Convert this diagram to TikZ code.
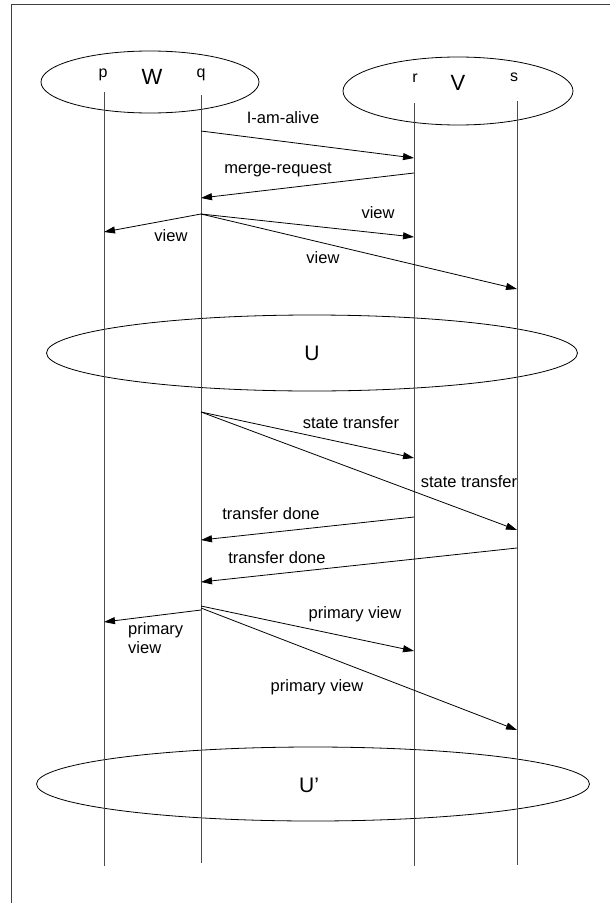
\documentclass[tikz,border=0pt]{standalone}
\usepackage{fontspec}
\setmainfont{Liberation Sans}
\usetikzlibrary{arrows.meta,shapes.geometric}
\begin{document}
\begin{tikzpicture}[x=1bp,y=-1bp,
  frame/.style={draw=black!75, line width=1bp},
  life/.style={draw=black!70, line width=0.9bp},
  msg/.style={draw=black, line width=0.8bp, -{Triangle[length=11bp,width=7bp]}},
  lbl/.style={font=\fontsize{16.5bp}{19bp}\selectfont, inner sep=0pt},
  proc/.style={font=\fontsize{16bp}{19bp}\selectfont, inner sep=0pt},
  grp/.style={font=\fontsize{22bp}{24bp}\selectfont, inner sep=0pt},
  oval/.style={ellipse, draw=black, line width=0.8bp, inner sep=0pt}]
\useasboundingbox (0,0) rectangle (610,903);
% frame
\draw[frame] (11,903) -- (11,4.7) -- (610,4.7);
% group ellipses
\node[oval, minimum width=218bp, minimum height=62bp] (W) at (150,82) {};
\node[oval, minimum width=230bp, minimum height=68bp] (V) at (458,91) {};
\node[oval, minimum width=531bp, minimum height=76bp] (U) at (312,353) {};
\node[oval, minimum width=553bp, minimum height=74bp] (U2) at (313,784) {};
\node[grp] (Wt) at (152,77) {W};
\node[grp] (Vt) at (458,83) {V};
\node[grp, font=\fontsize{21bp}{24bp}\selectfont] (Ut) at (312,353) {U};
\node[grp, font=\fontsize{21bp}{24bp}\selectfont] (U2t) at (309,785) {U’};
% process labels
\node[proc] (pl) at (103,75) {p};
\node[proc] (ql) at (201,75) {q};
\node[proc] (rl) at (415,78) {r};
\node[proc] (sl) at (514,77) {s};
% lifelines
\coordinate (pT) at (104,92);  \coordinate (pB) at (104,866);
\coordinate (qT) at (201,95);  \coordinate (qB) at (201,863);
\coordinate (rT) at (414,103); \coordinate (rB) at (414,866);
\coordinate (sT) at (517,101); \coordinate (sB) at (517,865);
\draw[life] (pT) -- (pB);
\draw[life] (qT) -- (qB);
\draw[life] (rT) -- (rB);
\draw[life] (sT) -- (sB);
% message points
\coordinate (q1) at (201,131); \coordinate (r1) at (414,158);
\coordinate (r2) at (414,173); \coordinate (q2) at (201,198);
\coordinate (q3) at (201,214); \coordinate (p3) at (104,232);
\coordinate (r3) at (414,237); \coordinate (s3) at (517,289);
\coordinate (q4) at (201,412); \coordinate (r4) at (414,458);
\coordinate (s4) at (517,530);
\coordinate (r5) at (414,517); \coordinate (q5) at (201,540);
\coordinate (s6) at (517,548); \coordinate (q6) at (201,582);
\coordinate (q7) at (201,610); \coordinate (p7) at (104,622);
\coordinate (q8) at (201,606); \coordinate (r8) at (414,651);
\coordinate (q9) at (201,608); \coordinate (s9) at (517,730);
% messages
\draw[msg] (q1) -- (r1);
\draw[msg] (r2) -- (q2);
\draw[msg] (q3) -- (p3);
\draw[msg] (q3) -- (r3);
\draw[msg] (q3) -- (s3);
\draw[msg] (q4) -- (r4);
\draw[msg] (q4) -- (s4);
\draw[msg] (r5) -- (q5);
\draw[msg] (s6) -- (q6);
\draw[msg] (q7) -- (p7);
\draw[msg] (q8) -- (r8);
\draw[msg] (q9) -- (s9);
% labels
\node[lbl] (m1) at (283,118) {I-am-alive};
\node[lbl] (m2) at (278,170) {merge-request};
\node[lbl] (m3) at (378,213) {view};
\node[lbl] (m4) at (171,236) {view};
\node[lbl] (m5) at (323,258) {view};
\node[lbl] (m6) at (351,423) {state transfer};
\node[lbl] (m7) at (469,482) {state transfer};
\node[lbl] (m8) at (271,514) {transfer done};
\node[lbl] (m9) at (277,558) {transfer done};
\node[lbl] (m10) at (355,614) {primary view};
\node[lbl, align=left, anchor=north west, font=\fontsize{16.5bp}{19bp}\selectfont] (m11) at (128,622) {primary\\view};
\node[lbl] (m12) at (317,687) {primary view};
\end{tikzpicture}
\end{document}
